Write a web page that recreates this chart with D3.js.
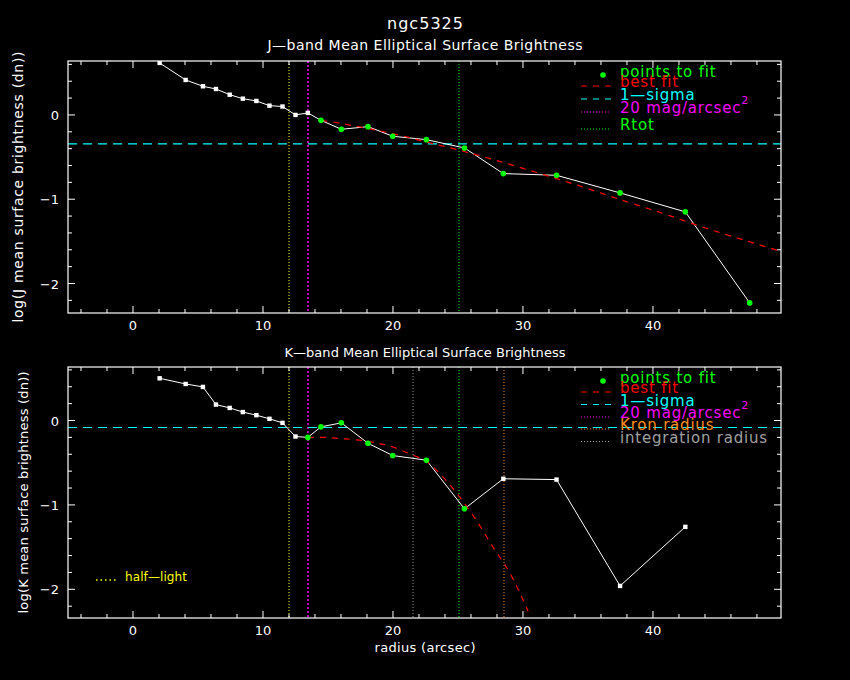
<!DOCTYPE html>
<html>
<head>
<meta charset="utf-8">
<script src="https://cdn.jsdelivr.net/npm/d3@7"></script>
<style>
  body { margin: 0; background: #000; }
  text { font-family: "DejaVu Sans", sans-serif; }
</style>
</head>
<body>
<div id="chart-area"></div>
<script>
// radius (arcsec) of the elliptical apertures
var radius = [2.05, 4.05, 5.38, 6.38, 7.44, 8.45, 9.49, 10.5, 11.5, 12.5, 13.45,
              14.46, 16.03, 18.08, 19.98, 22.57, 25.5, 28.49, 32.58, 37.47, 42.49, 47.44];

// J band
var logJ = [0.617, 0.415, 0.34, 0.308, 0.24, 0.193, 0.166, 0.11, 0.10, 0.0, 0.024,
            -0.064, -0.17, -0.139, -0.253, -0.293, -0.392, -0.696, -0.716, -0.925, -1.15, -2.23];
var fitJ = [0,0,0,0,0,0,0,0,0,0,0, 1,1,1,1,1,1,1,1,1,1,1];
var bestJr = [14.5, 15.6, 16.67, 18.7, 20.77, 22.8, 24.9, 27.95, 31.0, 34.1, 37.4, 40.8, 43.8, 46.9, 49.85];
var bestJ  = [-0.065, -0.09, -0.12, -0.18, -0.25, -0.33, -0.41, -0.54, -0.68, -0.83, -1.0, -1.17, -1.33, -1.48, -1.62];
var sigmaJ = -0.344;

// K band
var logK = [0.50, 0.433, 0.398, 0.189, 0.149, 0.10, 0.063, 0.02, -0.028, -0.19, -0.20,
            -0.075, -0.028, -0.27, -0.415, -0.47, -1.046, -0.69, -0.70, -1.96, -1.26];
var fitK = [0,0,0,0,0,0,0,0,0,0,1, 1,1,1,1,1,1,0,0,0,0];
var bestKr = [13.46, 14.6, 15.9, 16.9, 17.8, 18.85, 19.9, 20.9, 22.0, 22.6, 23.85, 25.1, 26.4, 27.7, 29.0, 30.4];
var bestK  = [-0.2, -0.2, -0.213, -0.225, -0.24, -0.27, -0.31, -0.37, -0.44, -0.49, -0.67, -0.90, -1.18, -1.50, -1.81, -2.26];
var sigmaK = -0.083;

// marker radii
var halfLight = 12.0;
var mag20 = 13.46;
var rtot = 25.08;
var kron = 28.54;
var integ = 21.54;

var xTicks = [0, 10, 20, 30, 40];
var yTicks = [0, -1, -2];

var W = 850, H = 680;
var svg = d3.select("#chart-area").append("svg")
    .attr("width", W)
    .attr("height", H)
    .style("background", "#000");

var x = d3.scaleLinear().domain([-5, 49.85]).range([68, 781]);

svg.append("text")
    .attr("x", 425).attr("y", 29)
    .attr("text-anchor", "middle")
    .attr("fill", "#fff").attr("font-size", 16)
    .attr("textLength", 76)
    .text("ngc5325");

function panel(opt) {
    var y = d3.scaleLinear().domain(opt.ydom).range([opt.bottom, opt.top]);
    var g = svg.append("g");
    var clipId = "clip" + opt.id;
    svg.append("clipPath").attr("id", clipId)
        .append("rect")
        .attr("x", 68).attr("y", opt.top)
        .attr("width", 781 - 68).attr("height", opt.bottom - opt.top);

    // subtitle
    g.append("text")
        .attr("x", 425).attr("y", opt.titleY)
        .attr("text-anchor", "middle")
        .attr("fill", "#fff").attr("font-size", opt.titleSize)
        .attr("textLength", opt.titleLen)
        .text(opt.title);

    // y label
    g.append("text")
        .attr("transform", "translate(" + opt.ylabX + "," + ((opt.top + opt.bottom) / 2) + ") rotate(-90)")
        .attr("text-anchor", "middle")
        .attr("fill", "#fff").attr("font-size", opt.ylabSize)
        .attr("textLength", opt.ylabLen)
        .text(opt.ylab);

    // vertical reference lines
    var plot = g.append("g").attr("clip-path", "url(#" + clipId + ")");
    opt.vlines.forEach(function(v) {
        plot.append("line")
            .attr("x1", x(v.r)).attr("x2", x(v.r))
            .attr("y1", opt.top).attr("y2", opt.bottom)
            .attr("stroke", v.color).attr("stroke-width", v.w || 1)
            .attr("stroke-dasharray", v.dash);
    });

    // 1-sigma
    plot.append("line")
        .attr("x1", 68).attr("x2", 781)
        .attr("y1", y(opt.sigma)).attr("y2", y(opt.sigma))
        .attr("stroke", "#00ffff").attr("stroke-width", 1.2)
        .attr("stroke-dasharray", "9,6");

    // profile
    var pts = opt.vals.map(function(v, i) { return [radius[i], v, opt.fit[i]]; });
    plot.append("path")
        .datum(pts)
        .attr("fill", "none").attr("stroke", "#fff").attr("stroke-width", 1)
        .attr("d", d3.line().x(function(d) { return x(d[0]); }).y(function(d) { return y(d[1]); }));

    // best fit
    var best = opt.bestR.map(function(r, i) { return [r, opt.best[i]]; });
    plot.append("path")
        .datum(best)
        .attr("fill", "none").attr("stroke", "#ff0000").attr("stroke-width", 1.2)
        .attr("stroke-dasharray", "6,6")
        .attr("d", d3.line().curve(d3.curveMonotoneX)
            .x(function(d) { return x(d[0]); }).y(function(d) { return y(d[1]); }));

    // points
    plot.selectAll("rect.pt")
        .data(pts.filter(function(d) { return !d[2]; }))
        .enter().append("rect")
        .attr("class", "pt")
        .attr("x", function(d) { return x(d[0]) - 2.2; })
        .attr("y", function(d) { return y(d[1]) - 2.2; })
        .attr("width", 4.4).attr("height", 4.4)
        .attr("fill", "#fff");
    plot.selectAll("circle.pt")
        .data(pts.filter(function(d) { return d[2]; }))
        .enter().append("circle")
        .attr("class", "pt")
        .attr("cx", function(d) { return x(d[0]); })
        .attr("cy", function(d) { return y(d[1]); })
        .attr("r", 2.8)
        .attr("fill", "#00ff00");

    // frame and ticks
    g.append("rect")
        .attr("x", 68).attr("y", opt.top)
        .attr("width", 781 - 68).attr("height", opt.bottom - opt.top)
        .attr("fill", "none").attr("stroke", "#fff").attr("stroke-width", 1.2);

    var xMinor = d3.range(-4, 50, 2);
    xMinor.forEach(function(t) {
        var len = (t % 10 === 0) ? 7 : 4;
        g.append("line").attr("x1", x(t)).attr("x2", x(t))
            .attr("y1", opt.bottom).attr("y2", opt.bottom - len)
            .attr("stroke", "#fff");
        g.append("line").attr("x1", x(t)).attr("x2", x(t))
            .attr("y1", opt.top).attr("y2", opt.top + len)
            .attr("stroke", "#fff");
    });
    var yMinor = d3.range(-22, 7, 2).map(function(v) { return v / 10; });
    yMinor.forEach(function(t) {
        if (t < opt.ydom[0] || t > opt.ydom[1]) return;
        var len = (Math.abs(t - Math.round(t)) < 1e-6) ? 7 : 4;
        g.append("line").attr("x1", 68).attr("x2", 68 + len)
            .attr("y1", y(t)).attr("y2", y(t)).attr("stroke", "#fff");
        g.append("line").attr("x1", 781).attr("x2", 781 - len)
            .attr("y1", y(t)).attr("y2", y(t)).attr("stroke", "#fff");
    });

    xTicks.forEach(function(t) {
        g.append("text")
            .attr("x", x(t)).attr("y", opt.bottom + 17)
            .attr("text-anchor", "middle")
            .attr("fill", "#fff").attr("font-size", 13)
            .text(t);
    });
    yTicks.forEach(function(t) {
        g.append("text")
            .attr("x", 59).attr("y", y(t) + 5)
            .attr("text-anchor", "end")
            .attr("fill", "#fff").attr("font-size", 13)
            .text(t === 0 ? "0" : "\u2212" + Math.abs(t));
    });

    // legend
    var lg = g.append("g");
    opt.legend.forEach(function(d) {
        if (d.dot) {
            lg.append("circle").attr("cx", 603).attr("cy", d.y - 1).attr("r", 2.8).attr("fill", d.color);
        } else {
            lg.append("line").attr("x1", 581).attr("x2", 611)
                .attr("y1", d.y).attr("y2", d.y)
                .attr("stroke", d.color).attr("stroke-width", 1.2)
                .attr("stroke-dasharray", d.dash);
        }
        var t = lg.append("text")
            .attr("x", 620).attr("y", d.y + 1)
            .attr("fill", d.color).attr("font-size", 15)
            .attr("letter-spacing", 0.8);
        t.append("tspan").text(d.label);
        if (d.sup) {
            t.append("tspan").attr("dy", -9).attr("font-size", 11).text(d.sup);
        }
    });
    return y;
}

panel({
    id: "J", top: 61, bottom: 313, ydom: [-2.35, 0.64],
    title: "J\u2014band Mean Elliptical Surface Brightness", titleY: 50, titleSize: 14, titleLen: 315,
    ylab: "log(J mean surface brightness (dn))", ylabX: 23, ylabSize: 14, ylabLen: 271,
    vals: logJ, fit: fitJ, bestR: bestJr, best: bestJ, sigma: sigmaJ,
    vlines: [
        { r: halfLight, color: "#ffff00", dash: "1,2" },
        { r: mag20, color: "#ff00ff", dash: "2,2", w: 1.5 },
        { r: rtot, color: "#00ff00", dash: "1,2" }
    ],
    legend: [
        { y: 76, dot: true, color: "#00ff00", label: "points to fit" },
        { y: 86, color: "#ff0000", dash: "6,6", label: "best fit" },
        { y: 99, color: "#00ffff", dash: "6,6", label: "1\u2014sigma" },
        { y: 112, color: "#ff00ff", dash: "1,2", label: "20 mag/arcsec", sup: "2" },
        { y: 129, color: "#00ff00", dash: "1,2", label: "Rtot" }
    ]
});

panel({
    id: "K", top: 367, bottom: 618, ydom: [-2.34, 0.634],
    title: "K\u2014band Mean Elliptical Surface Brightness", titleY: 357, titleSize: 13, titleLen: 281,
    ylab: "log(K mean surface brightness (dn))", ylabX: 28, ylabSize: 13, ylabLen: 242,
    vals: logK, fit: fitK, bestR: bestKr, best: bestK, sigma: sigmaK,
    vlines: [
        { r: halfLight, color: "#ffff00", dash: "1,2" },
        { r: mag20, color: "#ff00ff", dash: "2,2", w: 1.5 },
        { r: integ, color: "#a0a0a0", dash: "1,2" },
        { r: rtot, color: "#00ff00", dash: "1,2" },
        { r: kron, color: "#ff8c1a", dash: "1,2" }
    ],
    legend: [
        { y: 382, dot: true, color: "#00ff00", label: "points to fit" },
        { y: 392, color: "#ff0000", dash: "6,6", label: "best fit" },
        { y: 404.5, color: "#00ffff", dash: "6,6", label: "1\u2014sigma" },
        { y: 417, color: "#ff00ff", dash: "1,2", label: "20 mag/arcsec", sup: "2" },
        { y: 429, color: "#ff8c1a", dash: "1,2", label: "Kron radius" },
        { y: 441.5, color: "#a0a0a0", dash: "1,2", label: "integration radius" }
    ]
});

// half-light note
svg.append("line")
    .attr("x1", 96).attr("x2", 117).attr("y1", 580).attr("y2", 580)
    .attr("stroke", "#ffff00").attr("stroke-width", 1.5).attr("stroke-dasharray", "1.5,3");
svg.append("text")
    .attr("x", 125).attr("y", 581)
    .attr("fill", "#ffff00").attr("font-size", 12)
    .attr("textLength", 62)
    .text("half\u2014light");

svg.append("text")
    .attr("x", 425).attr("y", 652)
    .attr("text-anchor", "middle")
    .attr("fill", "#fff").attr("font-size", 13)
    .attr("textLength", 101)
    .text("radius (arcsec)");
</script>
</body>
</html>
